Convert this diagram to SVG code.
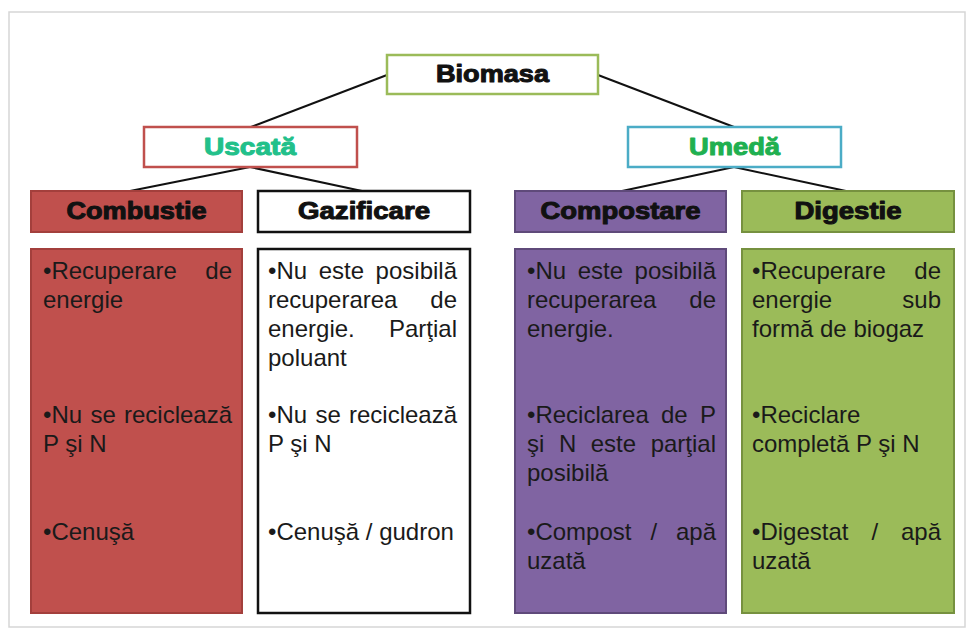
<svg xmlns="http://www.w3.org/2000/svg" width="968" height="629" viewBox="0 0 968 629">
<style>
.hd{font-family:"Liberation Sans",Arial,sans-serif;font-weight:bold;font-size:23px;text-anchor:middle;stroke-width:1;stroke-linejoin:round}
.bt{font-family:"Liberation Sans",Arial,sans-serif;font-size:24px;fill:#1a1a1a}
.e{text-anchor:end}
.con{stroke:#111;stroke-width:2;fill:none}
</style>
<rect x="0" y="0" width="968" height="629" fill="#fff"/>
<rect x="9" y="12" width="956" height="615" fill="#fff" stroke="#d6d6d6" stroke-width="1.5"/>

<g id="connectors">
<line class="con" x1="387" y1="75" x2="251" y2="127"/>
<line class="con" x1="598" y1="75" x2="734" y2="127"/>
<line class="con" x1="250" y1="167" x2="130" y2="191"/>
<line class="con" x1="250" y1="167" x2="362" y2="191"/>
<line class="con" x1="734" y1="167" x2="622" y2="191"/>
<line class="con" x1="734" y1="167" x2="846" y2="191"/>
</g>

<g id="biomasa">
<rect x="387" y="55" width="211" height="39" fill="#fff" stroke="#9bbb59" stroke-width="2.5"/>
<text class="hd" x="492.5" y="82" textLength="113" lengthAdjust="spacingAndGlyphs" fill="#111" stroke="#111">Biomasa</text>
</g>

<g id="uscata">
<rect x="144" y="127" width="213" height="40" fill="#fff" stroke="#c0504d" stroke-width="2.5"/>
<text class="hd" x="250" y="155" textLength="92" lengthAdjust="spacingAndGlyphs" fill="#22c08a" stroke="#22c08a">Uscată</text>
</g>

<g id="umeda">
<rect x="628" y="127" width="213" height="40" fill="#fff" stroke="#4bacc6" stroke-width="2.5"/>
<text class="hd" x="734.5" y="155" textLength="91" lengthAdjust="spacingAndGlyphs" fill="#1fb050" stroke="#1fb050">Umedă</text>
</g>

<g id="combustie">
<rect x="31" y="191" width="211" height="41" fill="#c0504d" stroke="#a33f3c" stroke-width="2"/>
<text class="hd" x="136.5" y="219" textLength="140" lengthAdjust="spacingAndGlyphs" fill="#111" stroke="#111">Combustie</text>
</g>

<g id="gazificare">
<rect x="258" y="191" width="212" height="41" fill="#fff" stroke="#111" stroke-width="2.5"/>
<text class="hd" x="364" y="219" textLength="132" lengthAdjust="spacingAndGlyphs" fill="#111" stroke="#111">Gazificare</text>
</g>

<g id="compostare">
<rect x="515" y="191" width="211" height="41" fill="#8064a2" stroke="#5f4a7a" stroke-width="2"/>
<text class="hd" x="620.5" y="219" textLength="160" lengthAdjust="spacingAndGlyphs" fill="#111" stroke="#111">Compostare</text>
</g>

<g id="digestie">
<rect x="742" y="191" width="212" height="41" fill="#9bbb59" stroke="#76913f" stroke-width="2"/>
<text class="hd" x="848" y="219" textLength="107" lengthAdjust="spacingAndGlyphs" fill="#111" stroke="#111">Digestie</text>
</g>

<g id="combustie-detalii">
<rect x="31" y="249" width="211" height="364" fill="#c0504d" stroke="#a33f3c" stroke-width="2"/>
<text class="bt" x="43" y="279">•Recuperare</text>
<text class="bt e" x="232" y="279">de</text>
<text class="bt" x="43" y="308">energie</text>
<text class="bt" x="43" y="423">•Nu</text>
<text class="bt" x="90.4" y="423">se</text>
<text class="bt e" x="232" y="423">reciclează</text>
<text class="bt" x="43" y="452">P şi N</text>
<text class="bt" x="43" y="540">•Cenuşă</text>
</g>

<g id="gazificare-detalii">
<rect x="258" y="249" width="212" height="364" fill="#fff" stroke="#111" stroke-width="2.5"/>
<text class="bt" x="268" y="279">•Nu</text>
<text class="bt" x="318.7" y="279">este</text>
<text class="bt e" x="457" y="279">posibilă</text>
<text class="bt" x="268" y="308">recuperarea</text>
<text class="bt e" x="457" y="308">de</text>
<text class="bt" x="268" y="337">energie.</text>
<text class="bt e" x="457" y="337">Parţial</text>
<text class="bt" x="268" y="366">poluant</text>
<text class="bt" x="268" y="423">•Nu</text>
<text class="bt" x="315.4" y="423">se</text>
<text class="bt e" x="457" y="423">reciclează</text>
<text class="bt" x="268" y="452">P şi N</text>
<text class="bt" x="268" y="540">•Cenuşă / gudron</text>
</g>

<g id="compostare-detalii">
<rect x="515" y="249" width="211" height="364" fill="#8064a2" stroke="#5f4a7a" stroke-width="2"/>
<text class="bt" x="527" y="279">•Nu</text>
<text class="bt" x="577.7" y="279">este</text>
<text class="bt e" x="716" y="279">posibilă</text>
<text class="bt" x="527" y="308">recuperarea</text>
<text class="bt e" x="716" y="308">de</text>
<text class="bt" x="527" y="337">energie.</text>
<text class="bt" x="527" y="423">•Reciclarea</text>
<text class="bt" x="661" y="423">de</text>
<text class="bt e" x="716" y="423">P</text>
<text class="bt" x="527" y="452">şi</text>
<text class="bt" x="558.9" y="452">N</text>
<text class="bt" x="590.7" y="452">este</text>
<text class="bt e" x="716" y="452">parţial</text>
<text class="bt" x="527" y="481">posibilă</text>
<text class="bt" x="527" y="540">•Compost</text>
<text class="bt" x="650.4" y="540">/</text>
<text class="bt e" x="716" y="540">apă</text>
<text class="bt" x="527" y="569">uzată</text>
</g>

<g id="digestie-detalii">
<rect x="742" y="249" width="212" height="364" fill="#9bbb59" stroke="#76913f" stroke-width="2"/>
<text class="bt" x="752" y="279">•Recuperare</text>
<text class="bt e" x="941" y="279">de</text>
<text class="bt" x="752" y="308">energie</text>
<text class="bt e" x="941" y="308">sub</text>
<text class="bt" x="752" y="337">formă de biogaz</text>
<text class="bt" x="752" y="423">•Reciclare</text>
<text class="bt" x="752" y="452">completă P şi N</text>
<text class="bt" x="752" y="540">•Digestat</text>
<text class="bt" x="871.4" y="540">/</text>
<text class="bt e" x="941" y="540">apă</text>
<text class="bt" x="752" y="569">uzată</text>
</g>
</svg>
